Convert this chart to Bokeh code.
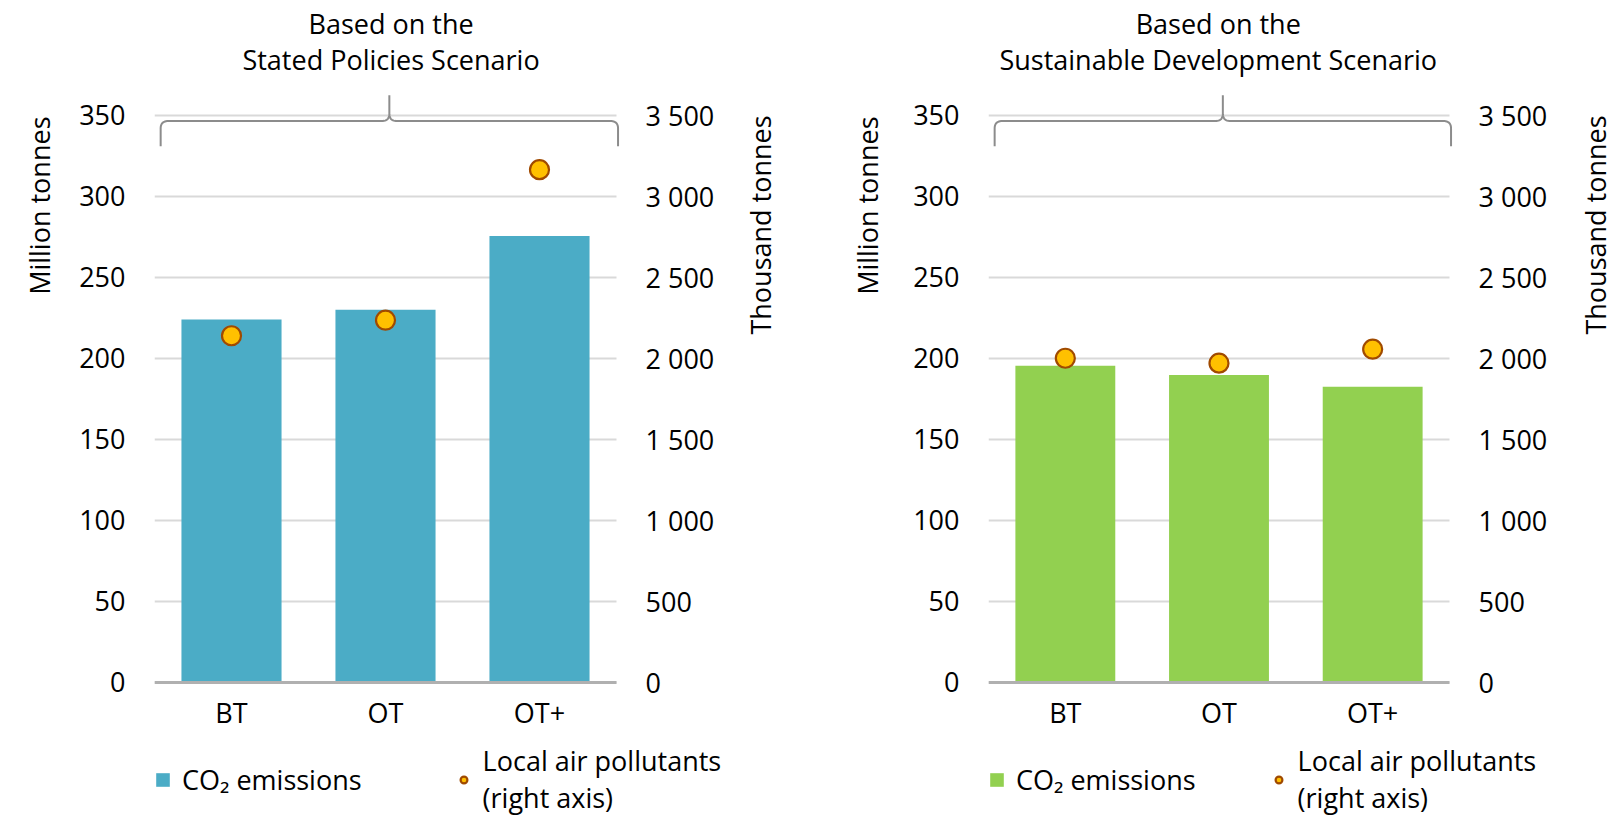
import math
from bokeh.plotting import figure
from bokeh.models import (Range1d, LinearAxis, FixedTicker, Legend, LegendItem, Title, Label)
from bokeh.layouts import row
from bokeh.embed import file_html
from bokeh.resources import INLINE

# ---------------- data ----------------
categories = ["BT", "OT", "OT+"]
steps_co2 = [224.0, 230.0, 275.5]          # million tonnes
steps_pollutants = [2140, 2236, 3165]      # thousand tonnes
sds_co2 = [195.5, 189.7, 182.5]
sds_pollutants = [2001, 1971, 2057]

left_ticks = [0, 50, 100, 150, 200, 250, 300, 350]
right_ticks = [0, 500, 1000, 1500, 2000, 2500, 3000, 3500]
right_tick_labels = ["0", "500", "1 000", "1 500", "2 000", "2 500", "3 000", "3 500"]

title_line1 = "Based on the"
title_line2 = ["Stated Policies Scenario", "Sustainable Development Scenario"]
left_axis_title = "Million tonnes"
right_axis_title = "Thousand tonnes"
legend_labels = ["CO\u2082 emissions", "Local air pollutants\n(right axis)"]
bar_colors = ["#4BACC6", "#92D050"]

FONT = "Open Sans"
FS = "27px"

Y_MIN, Y_MAX = -82.7, 420.9    # frame holds titles above and legend below the chart
RATIO = 10                     # right axis = 10 x left axis
N = len(categories)
XS = [i + 0.5 for i in range(N)]   # category centres on the x scale


def brace_path(left, right, mid, y_end, y_base, y_tip, dx, dy):
    def quad(p0, c, p1, n=12):
        pts = []
        for i in range(n + 1):
            t = i / n
            x = (1 - t) ** 2 * p0[0] + 2 * (1 - t) * t * c[0] + t ** 2 * p1[0]
            y = (1 - t) ** 2 * p0[1] + 2 * (1 - t) * t * c[1] + t ** 2 * p1[1]
            pts.append((x, y))
        return pts
    pts = [(left, y_end), (left, y_base - dy)]
    pts += quad((left, y_base - dy), (left, y_base), (left + dx, y_base))
    pts += [(mid - dx, y_base)]
    pts += quad((mid - dx, y_base), (mid, y_base), (mid, y_base + dy))
    pts += [(mid, y_tip), (mid, y_base + dy)]
    pts += quad((mid, y_base + dy), (mid, y_base), (mid + dx, y_base))
    pts += [(right - dx, y_base)]
    pts += quad((right - dx, y_base), (right, y_base), (right, y_base - dy))
    pts += [(right, y_end)]
    return [p[0] for p in pts], [p[1] for p in pts]


def make_panel(subtitle, co2, pollutants, color, frame_w, x_end, mb_left,
               lt_standoff, title_x, rt_x, leg_spacing):
    p = figure(x_range=Range1d(0, x_end), y_range=Range1d(Y_MIN, Y_MAX),
               frame_width=frame_w, frame_height=816, output_backend="svg",
               toolbar_location=None, min_border_left=mb_left,
               min_border_right=0, min_border_top=0, min_border_bottom=0)
    p.outline_line_color = None
    p.extra_y_ranges = {"right": Range1d(Y_MIN * RATIO, Y_MAX * RATIO)}
    p.xgrid.visible = False
    p.ygrid.visible = False

    # horizontal gridlines across the category span
    p.segment(x0=[0] * len(left_ticks), x1=[N] * len(left_ticks),
              y0=left_ticks, y1=left_ticks, line_color="#D9D9D9", line_width=2)

    r_bar = p.vbar(x=XS, top=co2, width=0.65, color=color, line_color=None)
    r_dot = p.scatter(x=XS, y=pollutants, y_range_name="right", size=19,
                      fill_color="#FFC000", line_color="#A04A00", line_width=2.2)

    bx, by = brace_path(0.04, 3.01, 1.525, 331, 346.5, 362.5, 0.05, 4.5)
    p.line(bx, by, line_color="#8C8C8C", line_width=2)

    # chart title, two centred lines
    for txt, yy in ((title_line1, 406.7), (subtitle, 384.5)):
        p.add_layout(Label(x=title_x, y=yy, text=txt, text_align="center",
                           text_baseline="middle", text_font=FONT,
                           text_font_size=FS, text_color="black"))

    # left axis
    ya = p.yaxis[0]
    ya.ticker = FixedTicker(ticks=left_ticks)
    ya.axis_line_color = None
    ya.major_tick_line_color = None
    ya.minor_tick_line_color = None
    ya.major_label_standoff = 23
    ya.major_label_text_font = FONT
    ya.major_label_text_font_size = FS
    ya.major_label_text_color = "black"
    p.add_layout(Title(text=left_axis_title, align="right", text_font=FONT,
                       text_font_size=FS, text_font_style="normal",
                       text_color="black", standoff=lt_standoff, offset=116), "left")

    # right axis drawn at the right end of the category span
    ra = LinearAxis(y_range_name="right", ticker=FixedTicker(ticks=right_ticks))
    ra.fixed_location = N
    ra.major_label_overrides = {v: s for v, s in zip(right_ticks, right_tick_labels)}
    ra.axis_line_color = None
    ra.major_tick_line_color = None
    ra.minor_tick_line_color = None
    ra.major_label_standoff = 23
    ra.major_label_text_font = FONT
    ra.major_label_text_font_size = FS
    ra.major_label_text_color = "black"
    p.add_layout(ra, "right")

    # right axis title, top-aligned with the highest tick
    p.add_layout(Label(x=rt_x, y=left_ticks[-1], text=right_axis_title,
                       angle=math.pi / 2, text_align="right", text_baseline="middle",
                       text_font=FONT, text_font_size=FS, text_color="black"))

    # x axis on the zero line
    xa = p.xaxis[0]
    xa.fixed_location = 0
    xa.bounds = (0, N)
    xa.ticker = FixedTicker(ticks=XS)
    xa.major_label_overrides = {x: c for x, c in zip(XS, categories)}
    xa.axis_line_color = "#B0B0B0"
    xa.axis_line_width = 3
    xa.major_tick_line_color = None
    xa.minor_tick_line_color = None
    xa.major_label_standoff = 6
    xa.major_label_text_font = FONT
    xa.major_label_text_font_size = FS
    xa.major_label_text_color = "black"

    legend = Legend(items=[LegendItem(label=legend_labels[0], renderers=[r_bar]),
                           LegendItem(label=legend_labels[1], renderers=[r_dot])],
                    orientation="horizontal", location=(0, 0),
                    label_text_font=FONT, label_text_font_size=FS,
                    label_text_color="black", label_text_line_height=1.3,
                    glyph_width=17, glyph_height=17, label_standoff=11,
                    spacing=leg_spacing, border_line_color=None,
                    background_fill_alpha=0, padding=0, margin=0)
    p.add_layout(legend)
    return p


# fig 1: frame 154..807 px, 154 px per category; fig 2: frame 988..1612 px
p1 = make_panel(title_line2[0], steps_co2, steps_pollutants, bar_colors[0],
                653, 3 * 653 / 462, 154, 37, 1.536, 3.938, 93)
p2 = make_panel(title_line2[1], sds_co2, sds_pollutants, bar_colors[1],
                624, 3 * 624 / 461, 181, 50, 1.495, 3.950, 74)

layout = row(p1, p2)
open("out.html", "w").write(file_html(layout, INLINE))
